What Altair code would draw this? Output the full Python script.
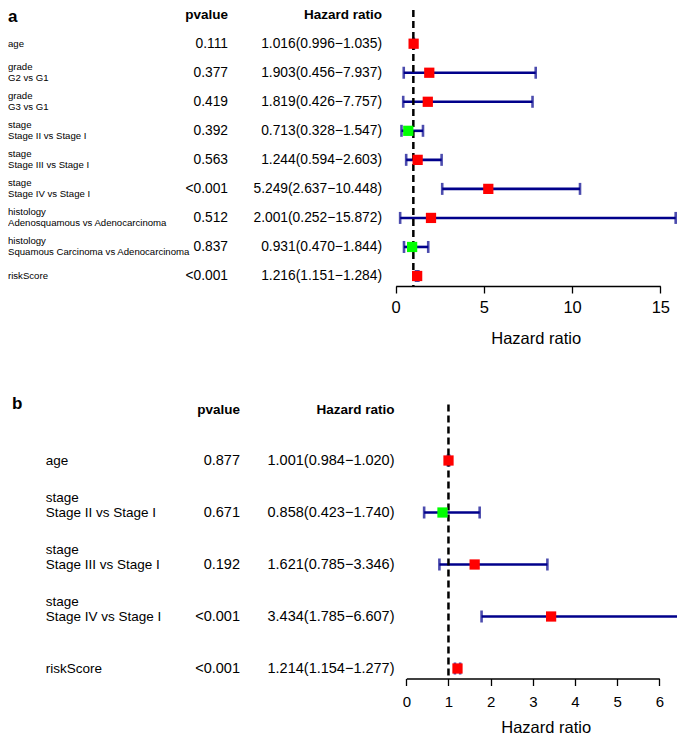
import altair as alt
import pandas as pd

# ---------------- Panel a data ----------------
a_group = ["", "grade", "grade", "stage", "stage", "stage", "histology", "histology", ""]
a_label = ["age", "G2 vs G1", "G3 vs G1", "Stage II vs Stage I", "Stage III vs Stage I",
           "Stage IV vs Stage I", "Adenosquamous vs Adenocarcinoma",
           "Squamous Carcinoma vs Adenocarcinoma", "riskScore"]
a_pvalue = ["0.111", "0.377", "0.419", "0.392", "0.563", "<0.001", "0.512", "0.837", "<0.001"]
a_hr = [1.016, 1.903, 1.819, 0.713, 1.244, 5.249, 2.001, 0.931, 1.216]
a_low = [0.996, 0.456, 0.426, 0.328, 0.594, 2.637, 0.252, 0.470, 1.151]
a_high = [1.035, 7.937, 7.757, 1.547, 2.603, 10.448, 15.872, 1.844, 1.284]
a_ticks = [0, 5, 10, 15]

# ---------------- Panel b data ----------------
b_group = ["", "stage", "stage", "stage", ""]
b_label = ["age", "Stage II vs Stage I", "Stage III vs Stage I", "Stage IV vs Stage I", "riskScore"]
b_pvalue = ["0.877", "0.671", "0.192", "<0.001", "<0.001"]
b_hr = [1.001, 0.858, 1.621, 3.434, 1.214]
b_low = [0.984, 0.423, 0.785, 1.785, 1.154]
b_high = [1.020, 1.740, 3.346, 6.607, 1.277]
b_ticks = [0, 1, 2, 3, 4, 5, 6]

headers = ["pvalue", "Hazard ratio"]
ref_value = 1
FONT = "Liberation Sans"
NAVY = "#00008B"


def make_df(group, label, pv, hr, lo, hi):
    return pd.DataFrame({
        "idx": list(range(len(label))),
        "group": group,
        "label": label,
        "pvalue": pv,
        "hr": hr,
        "low": lo,
        "high": hi,
        "hrtext": [f"{h:.3f}({l:.3f}\u2212{u:.3f})" for h, l, u in zip(hr, lo, hi)],
    })


def panel(df, letter, ticks, xdomain, xrange, yrange, width, height, title_x,
          label_x, letter_x, pv_x, hr_x, label_size, val_size, two_line_top_dy, two_line_main_dy,
          header_y, letter_y, dash_y0, tick_font, label_pad, title_pad, clip_bars):
    n = len(df)
    xs = alt.Scale(domain=xdomain, range=xrange, nice=False, zero=False)
    ys = alt.Scale(domain=[0, n - 1], range=yrange, nice=False, zero=False)
    ax = alt.Axis(values=ticks, title="Hazard ratio", titleX=title_x, titleFontSize=16.5,
                  titleFontWeight="normal", titleColor="black", titlePadding=title_pad,
                  titleFont=FONT, labelFont=FONT,
                  labelFontSize=tick_font, labelColor="black", labelPadding=label_pad,
                  labelFlush=False, labelOverlap=False, tickSize=7, tickWidth=1.3,
                  tickColor="black", domainColor="black", domainWidth=1.3, grid=False,
                  format="d")
    Y = alt.Y("idx:Q", scale=ys, axis=None)
    base = alt.Chart(df)

    bars = base.mark_rule(color=NAVY, strokeWidth=2.6, clip=clip_bars).encode(
        x=alt.X("low:Q", scale=xs, axis=ax), x2="high:Q", y=Y)
    cap_lo = base.mark_tick(color=NAVY, orient="vertical", size=12, thickness=2.6,
                            clip=clip_bars).encode(
        x=alt.X("low:Q", scale=xs, axis=ax), y=Y)
    cap_hi = base.mark_tick(color=NAVY, orient="vertical", size=12, thickness=2.6,
                            clip=clip_bars).encode(
        x=alt.X("high:Q", scale=xs, axis=ax), y=Y)
    ref = alt.Chart(pd.DataFrame({"ref": [ref_value]})).mark_rule(
        color="black", strokeWidth=2.5, strokeDash=[7, 4]).encode(
        x=alt.X("ref:Q", scale=xs, axis=ax), y=alt.value(dash_y0), y2=alt.value(height))
    pts = base.mark_square(size=105, opacity=1, filled=True).encode(
        x=alt.X("hr:Q", scale=xs, axis=ax), y=Y,
        color=alt.condition(alt.datum.hr > 1, alt.value("#FF0000"), alt.value("#00FF00")))

    txt = dict(font=FONT, color="black", baseline="middle")
    single = base.transform_filter(alt.datum.group == "").mark_text(
        align="left", fontSize=label_size, **txt).encode(
        x=alt.value(label_x), y=Y, text="label:N")
    main2 = base.transform_filter(alt.datum.group != "").mark_text(
        align="left", fontSize=label_size, dy=two_line_main_dy, **txt).encode(
        x=alt.value(label_x), y=Y, text="label:N")
    top2 = base.transform_filter(alt.datum.group != "").mark_text(
        align="left", fontSize=label_size, dy=two_line_top_dy, **txt).encode(
        x=alt.value(label_x), y=Y, text="group:N")
    pvt = base.mark_text(align="right", fontSize=val_size, **txt).encode(
        x=alt.value(pv_x), y=Y, text="pvalue:N")
    hrt = base.mark_text(align="right", fontSize=val_size, **txt).encode(
        x=alt.value(hr_x), y=Y, text="hrtext:N")

    hdf = pd.DataFrame({"h": headers})
    h1 = alt.Chart(hdf.iloc[[0]]).mark_text(align="right", fontSize=13.5, fontWeight="bold", **txt).encode(
        x=alt.value(pv_x), y=alt.value(header_y), text="h:N")
    h2 = alt.Chart(hdf.iloc[[1]]).mark_text(align="right", fontSize=13.5, fontWeight="bold", **txt).encode(
        x=alt.value(hr_x), y=alt.value(header_y), text="h:N")
    let = alt.Chart(pd.DataFrame({"t": [letter]})).mark_text(
        align="left", fontSize=17, fontWeight="bold", font=FONT, color="black",
        baseline="alphabetic").encode(x=alt.value(letter_x), y=alt.value(letter_y), text="t:N")

    return alt.layer(bars, cap_lo, cap_hi, ref, pts, single, main2, top2, pvt, hrt, h1, h2, let
                     ).properties(width=width, height=height)


dfa = make_df(a_group, a_label, a_pvalue, a_hr, a_low, a_high)
dfb = make_df(b_group, b_label, b_pvalue, b_hr, b_low, b_high)

chart_a = panel(dfa, "a", a_ticks, [0, 15], [387.7, 652.3], [35.7, 268], 669, 278, 527.7,
                0, 0, 220, 374, 9.6, 13.8, -5.5, 5.5, 7, 14, 2, 16.5, 6, 14.5, False)
chart_b = panel(dfb, "b", b_ticks, [0, 6], [398.3, 651.3], [66, 274], 669, 284, 537.7,
                37.7, 4, 232, 386.5, 13.5, 14.5, -15, 0, 15, 14, 10, 15, 8.5, 10, True)

chart = alt.vconcat(chart_a, chart_b, spacing=47.5).properties(padding=0).configure_view(
    stroke=None)

chart.save("out.html", embed_options={"renderer": "svg", "actions": False})
